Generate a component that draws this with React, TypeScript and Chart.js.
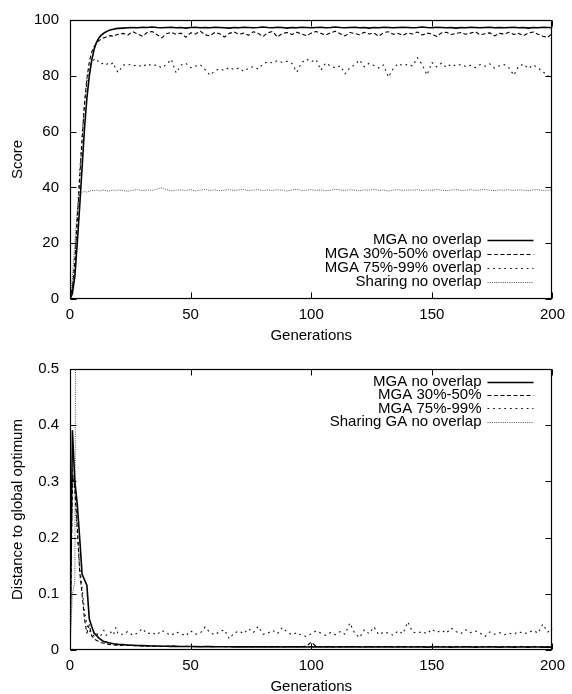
import React, { useEffect, useRef } from 'react';
import { Chart, registerables } from 'chart.js';

Chart.register(...registerables);

// ---------- data ----------
const generations = [
  0, 1, 2, 3, 4, 5, 6, 7, 8, 9, 10, 11, 12, 13, 14, 15, 16, 17, 18, 19, 20,
  22, 24, 26, 28, 30, 32, 34, 36, 38, 40,
  42, 44, 46, 48, 50, 52, 54, 56, 58, 60,
  62, 64, 66, 68, 70, 72, 74, 76, 78, 80,
  82, 84, 86, 88, 90, 92, 94, 96, 98, 100,
  102, 104, 106, 108, 110, 112, 114, 116, 118, 120,
  122, 124, 126, 128, 130, 132, 134, 136, 138, 140,
  142, 144, 146, 148, 150, 152, 154, 156, 158, 160,
  162, 164, 166, 168, 170, 172, 174, 176, 178, 180,
  182, 184, 186, 188, 190, 192, 194, 196, 198, 200,
];

const generationTicks = [0, 50, 100, 150, 200];
const scoreTicks = [0, 20, 40, 60, 80, 100];
const distanceTicks = [0, 0.1, 0.2, 0.3, 0.4, 0.5];

const topLabels = ['MGA no overlap', 'MGA 30%-50% overlap', 'MGA 75%-99% overlap', 'Sharing no overlap'];
const bottomLabels = ['MGA no overlap', 'MGA 30%-50%', 'MGA 75%-99%', 'Sharing GA no overlap'];

const scoreMgaNoOverlap = [
  0, 2, 8, 20, 33, 47, 61, 72, 80, 85.5, 89.5, 92, 93.6, 94.6, 95.3, 95.8, 96.2, 96.5, 96.7, 96.9, 97.0,
  97.1, 97.2, 97.3, 97.2, 97.4, 97.3, 97.5, 97.3, 97.2, 97.3,
  97.4, 97.2, 97.3, 97.1, 97.3, 97.4, 97.2, 97.3, 97.2, 97.4,
  97.3, 97.2, 97.1, 97.3, 97.2, 97.4, 97.3, 97.2, 97.3, 97.5,
  97.3, 97.2, 97.4, 97.3, 97.1, 97.3, 97.2, 97.4, 97.3, 97.2,
  97.3, 97.4, 97.2, 97.3, 97.5, 97.3, 97.2, 97.3, 97.4, 97.2,
  97.3, 97.1, 97.3, 97.2, 97.4, 97.3, 97.2, 97.3, 97.4, 97.3,
  97.2, 97.3, 97.5, 97.3, 97.2, 97.4, 97.3, 97.2, 97.3, 97.1,
  97.3, 97.2, 97.4, 97.3, 97.2, 97.3, 97.4, 97.2, 97.3, 97.2,
  97.3, 97.4, 97.2, 97.3, 97.1, 97.3, 97.2, 97.4, 97.3, 97.2,
];

const scoreMga30to50 = [
  0, 4, 13, 28, 43, 57, 70, 79, 85, 88.5, 90.5, 91.8, 92.6, 93.2, 93.6, 93.9, 94.2, 94.4, 94.1, 94.6, 94.9,
  95.2, 94.6, 95.8, 95.0, 94.2, 95.5, 95.9, 94.8, 93.6, 95.1,
  95.6, 94.9, 95.3, 93.8, 95.4, 95.0, 96.0, 94.7, 94.3, 95.5,
  95.1, 93.9, 95.2, 95.7, 94.9, 95.3, 94.5, 95.8, 95.2, 94.1,
  95.4, 95.9, 93.9, 95.2, 95.5, 94.8, 95.6, 95.0, 94.4, 95.3,
  95.9, 95.2, 94.6, 95.4, 96.0, 95.1, 94.3, 95.5, 95.2, 94.7,
  95.6, 95.0, 95.3, 94.2, 95.5, 95.8, 94.9, 95.2, 94.5, 95.4,
  95.0, 95.7, 94.6, 95.3, 95.0, 94.1, 95.4, 95.6, 94.8, 95.2,
  95.5, 94.9, 95.3, 95.8, 94.7, 95.1, 95.4, 94.3, 95.2, 95.0,
  95.6, 94.8, 95.2, 94.4, 95.3, 95.7, 94.9, 94.2, 93.8, 95.3,
];

const scoreMga75to99 = [
  0, 4, 14, 29, 45, 58, 70, 78, 83, 85.2, 85.8, 86.1, 84.6, 84.3, 84.5, 84.0, 84.6, 84.2, 84.7, 82.3, 81.2,
  83.8, 84.2, 83.5, 84.0, 83.2, 84.3, 83.6, 83.9, 82.8, 84.1,
  85.9, 81.0, 83.8, 84.5, 82.9, 83.4, 84.0, 82.2, 80.2, 81.8,
  82.5, 81.9, 83.0, 82.2, 82.8, 81.6, 82.7, 83.3, 82.4, 84.2,
  85.0, 84.6, 85.5, 84.8, 85.2, 84.4, 81.3, 84.7, 86.0, 85.0,
  85.8, 82.0, 84.6, 83.5, 82.8, 83.6, 80.7, 82.9, 84.0, 85.7,
  83.2, 84.5, 83.7, 82.8, 83.9, 79.5, 82.6, 84.4, 83.6, 84.1,
  83.5, 86.5, 84.0, 80.3, 84.8, 83.2, 84.6, 83.0, 84.2, 83.5,
  84.1, 83.3, 83.8, 82.9, 84.0, 83.4, 84.3, 82.7, 83.6, 84.0,
  82.8, 80.2, 83.5, 84.2, 82.6, 83.9, 82.8, 81.5, 80.0, 79.3,
];

const scoreSharing = [
  0, 8, 20, 32, 37.5, 38.3, 38.5, 38.3, 38.6, 38.9, 38.8, 39.0, 38.7, 38.9, 39.1, 38.8, 38.6, 38.9, 39.0, 38.8, 39.1,
  38.9, 38.6, 39.0, 39.2, 38.8, 39.1, 38.9, 39.4, 39.8, 39.2,
  38.8, 39.0, 39.1, 38.9, 39.2, 38.7, 39.0, 39.3, 38.9, 39.1,
  38.8, 39.0, 39.2, 38.9, 39.1, 39.3, 38.8, 39.0, 39.2, 38.9,
  39.1, 38.9, 39.2, 39.0, 38.7, 39.1, 39.3, 38.9, 39.0, 39.2,
  38.9, 39.1, 38.8, 39.0, 39.3, 39.1, 38.9, 39.2, 39.0, 38.8,
  39.1, 39.0, 39.3, 38.9, 39.1, 38.7, 39.0, 39.2, 38.9, 39.1,
  39.0, 39.2, 38.8, 39.1, 38.9, 39.3, 39.0, 38.8, 39.1, 39.2,
  38.9, 39.0, 39.2, 38.9, 39.1, 39.3, 39.0, 38.8, 39.1, 39.0,
  39.2, 38.9, 39.1, 39.0, 38.8, 39.1, 39.2, 38.9, 39.0, 39.1,
];

const distMgaNoOverlap = [
  0, 0.39, 0.30, 0.26, 0.20, 0.135, 0.125, 0.115, 0.055, 0.042, 0.03, 0.026, 0.021, 0.018, 0.015, 0.014, 0.013, 0.012, 0.011, 0.0105, 0.010,
  0.0095, 0.009, 0.0085, 0.008, 0.0078, 0.0075, 0.0072, 0.007, 0.0068, 0.0066,
  0.0065, 0.0064, 0.0063, 0.0061, 0.0062, 0.006, 0.0059, 0.0061, 0.006, 0.0058,
  0.0058, 0.0057, 0.0059, 0.0056, 0.0058, 0.0055, 0.0057, 0.0056, 0.0058, 0.0055,
  0.0056, 0.0055, 0.0057, 0.0054, 0.0056, 0.0055, 0.0057, 0.0055, 0.0054, 0.0056,
  0.0055, 0.0054, 0.0056, 0.0055, 0.0053, 0.0055, 0.0054, 0.0056, 0.0055, 0.0053,
  0.0054, 0.0055, 0.0053, 0.0055, 0.0054, 0.0056, 0.0054, 0.0053, 0.0055, 0.0054,
  0.0053, 0.0055, 0.0054, 0.0052, 0.0054, 0.0055, 0.0053, 0.0054, 0.0052, 0.0054,
  0.0053, 0.0055, 0.0054, 0.0052, 0.0054, 0.0053, 0.0055, 0.0053, 0.0052, 0.0054,
  0.0053, 0.0052, 0.0054, 0.0053, 0.0051, 0.0053, 0.0054, 0.0052, 0.0053, 0.0052,
];

const distMga30to50 = [
  0, 0.31, 0.29, 0.22, 0.14, 0.10, 0.055, 0.03, 0.045, 0.025, 0.02, 0.017, 0.015, 0.013, 0.012, 0.011, 0.010, 0.0095, 0.009, 0.0085, 0.008,
  0.0085, 0.008, 0.0078, 0.0074, 0.007, 0.0068, 0.0072, 0.0066, 0.0064, 0.0068,
  0.0075, 0.0065, 0.0061, 0.0064, 0.0063, 0.0062, 0.006, 0.0063, 0.0061, 0.0059,
  0.0062, 0.006, 0.0058, 0.0061, 0.0059, 0.0063, 0.0058, 0.006, 0.0062, 0.0058,
  0.0059, 0.0061, 0.0058, 0.006, 0.0057, 0.0062, 0.0059, 0.006, 0.0068, 0.014,
  0.0065, 0.0058, 0.006, 0.0057, 0.0059, 0.0061, 0.0058, 0.006, 0.0062, 0.0058,
  0.0057, 0.0059, 0.0061, 0.0058, 0.006, 0.0057, 0.0059, 0.0062, 0.0058, 0.006,
  0.0059, 0.0057, 0.0061, 0.0058, 0.006, 0.0062, 0.0058, 0.0057, 0.0059, 0.0061,
  0.0058, 0.006, 0.0057, 0.0059, 0.0061, 0.0058, 0.006, 0.0057, 0.0059, 0.0058,
  0.006, 0.0057, 0.0059, 0.0061, 0.0058, 0.006, 0.0057, 0.0059, 0.0058, 0.006,
];

const distMga75to99 = [
  0, 0.32, 0.28, 0.21, 0.15, 0.11, 0.07, 0.045, 0.035, 0.028, 0.025, 0.03, 0.024, 0.027, 0.035, 0.026, 0.029, 0.032, 0.027, 0.04, 0.028,
  0.028, 0.033, 0.026, 0.03, 0.038, 0.029, 0.031, 0.027, 0.035, 0.03,
  0.026, 0.032, 0.029, 0.025, 0.034, 0.028, 0.03, 0.041, 0.031, 0.027,
  0.033, 0.036, 0.02, 0.03, 0.034, 0.029, 0.038, 0.031, 0.042, 0.028,
  0.03, 0.035, 0.029, 0.04, 0.032, 0.027, 0.031, 0.026, 0.024, 0.029,
  0.034, 0.03, 0.026, 0.031, 0.027, 0.033, 0.028, 0.048, 0.03, 0.022,
  0.036, 0.029, 0.041, 0.027, 0.032, 0.03, 0.026, 0.034, 0.029, 0.05,
  0.032, 0.03, 0.033, 0.029, 0.037, 0.031, 0.035, 0.03, 0.039, 0.033,
  0.029, 0.036, 0.031, 0.034, 0.03, 0.024, 0.032, 0.028, 0.031, 0.027,
  0.03, 0.028, 0.033, 0.029, 0.031, 0.035, 0.03, 0.046, 0.032, 0.038,
];

// Sharing GA distance leaves the plotted range after generation 2
const distSharing = [
  0, 0.1, 0.12, 1.5, 1.5, 1.5, 1.5, 1.5, 1.5, 1.5, 1.5, 1.5, 1.5, 1.5, 1.5, 1.5, 1.5, 1.5, 1.5, 1.5, 1.5,
  1.5, 1.5, 1.5, 1.5, 1.5, 1.5, 1.5, 1.5, 1.5, 1.5,
  1.5, 1.5, 1.5, 1.5, 1.5, 1.5, 1.5, 1.5, 1.5, 1.5,
  1.5, 1.5, 1.5, 1.5, 1.5, 1.5, 1.5, 1.5, 1.5, 1.5,
  1.5, 1.5, 1.5, 1.5, 1.5, 1.5, 1.5, 1.5, 1.5, 1.5,
  1.5, 1.5, 1.5, 1.5, 1.5, 1.5, 1.5, 1.5, 1.5, 1.5,
  1.5, 1.5, 1.5, 1.5, 1.5, 1.5, 1.5, 1.5, 1.5, 1.5,
  1.5, 1.5, 1.5, 1.5, 1.5, 1.5, 1.5, 1.5, 1.5, 1.5,
  1.5, 1.5, 1.5, 1.5, 1.5, 1.5, 1.5, 1.5, 1.5, 1.5,
  1.5, 1.5, 1.5, 1.5, 1.5, 1.5, 1.5, 1.5, 1.5, 1.5,
];

// ---------- styling ----------
const FONT_FAMILY = '"Liberation Sans", Arial, Helvetica, sans-serif';
const FONT_SIZE = 15;
const W = 572;
const H = 347;

const seriesStyles = [
  { borderColor: '#000', borderWidth: 1.6, borderDash: [] as number[] },
  { borderColor: '#000', borderWidth: 1.1, borderDash: [4, 2.5] },
  { borderColor: '#111', borderWidth: 1.1, borderDash: [1.8, 3.8] },
  { borderColor: '#555', borderWidth: 1, borderDash: [1, 1.2] },
];

const toPoints = (values: number[]) => generations.map((g, i) => ({ x: g, y: values[i] }));

const framePlugin = {
  id: 'gnuFrame',
  afterDraw(chart: any, _args: any, opts: any) {
    const { ctx, chartArea, scales } = chart;
    const { left, right, top, bottom } = chartArea;
    const L = Math.round(left) + 0.5;
    const R = Math.round(right) - 0.5;
    const T = Math.round(top) + 0.5;
    const B = Math.round(bottom) - 0.5;
    ctx.save();
    ctx.setLineDash([]);
    ctx.strokeStyle = '#000';
    ctx.lineWidth = 1;
    const tl = 6;
    ctx.beginPath();
    scales.x.ticks.forEach((t: any) => {
      const px = Math.round(scales.x.getPixelForValue(t.value)) + 0.5;
      ctx.moveTo(px, B);
      ctx.lineTo(px, B - tl);
      ctx.moveTo(px, T);
      ctx.lineTo(px, T + tl);
    });
    scales.y.ticks.forEach((t: any) => {
      const py = Math.round(scales.y.getPixelForValue(t.value)) + 0.5;
      ctx.moveTo(L, py);
      ctx.lineTo(L + tl, py);
      ctx.moveTo(R, py);
      ctx.lineTo(R - tl, py);
    });
    ctx.stroke();
    ctx.lineWidth = 1.2;
    ctx.strokeRect(L, T, R - L, B - T);

    // gnuplot-style key
    ctx.font = `${FONT_SIZE}px ${FONT_FAMILY}`;
    ctx.textAlign = 'right';
    ctx.textBaseline = 'middle';
    ctx.fillStyle = '#000';
    chart.data.datasets.forEach((ds: any, i: number) => {
      const y = opts.anchor === 'bottom' ? bottom - opts.offset + i * opts.step : top + opts.offset + i * opts.step;
      ctx.fillText(ds.label, right - 71, y);
      const ly = Math.round(y) + 0.5;
      ctx.strokeStyle = ds.borderColor;
      ctx.lineWidth = ds.borderWidth;
      ctx.setLineDash(ds.borderDash || []);
      ctx.beginPath();
      ctx.moveTo(right - 65, ly);
      ctx.lineTo(right - 19, ly);
      ctx.stroke();
    });
    ctx.restore();
  },
};

function makeConfig(opts: {
  labels: string[];
  series: number[][];
  yMin: number;
  yMax: number;
  yTicks: number[];
  yTitle: string;
  padTop: number;
  xAxisHeight: number;
  xTitlePadBottom: number;
  legend: { anchor: string; offset: number; step: number };
}) {
  const font = { family: FONT_FAMILY, size: FONT_SIZE };
  return {
    type: 'line' as const,
    data: {
      datasets: opts.series.map((vals, i) => ({
        label: opts.labels[i],
        data: toPoints(vals),
        ...seriesStyles[i],
        fill: false,
        pointRadius: 0,
        tension: 0,
        borderCapStyle: 'butt',
        borderJoinStyle: 'round',
      })),
    },
    options: {
      animation: false,
      responsive: false,
      maintainAspectRatio: false,
      layout: { padding: { left: 0, right: 14, top: opts.padTop, bottom: 0 } },
      plugins: {
        legend: { display: false },
        tooltip: { enabled: false },
        gnuFrame: opts.legend,
      },
      scales: {
        x: {
          type: 'linear',
          min: 0,
          max: 200,
          afterBuildTicks: (s: any) => {
            s.ticks = generationTicks.map((v) => ({ value: v }));
          },
          afterFit: (s: any) => {
            s.height = opts.xAxisHeight;
          },
          ticks: {
            font,
            color: '#000',
            padding: 7,
            maxRotation: 0,
            autoSkip: false,
            callback: (v: any) => String(v),
          },
          grid: { display: false, drawTicks: false },
          border: { display: false },
          title: {
            display: true,
            text: 'Generations',
            font,
            color: '#000',
            padding: { top: 0, bottom: opts.xTitlePadBottom },
          },
        },
        y: {
          type: 'linear',
          min: opts.yMin,
          max: opts.yMax,
          afterBuildTicks: (s: any) => {
            s.ticks = opts.yTicks.map((v) => ({ value: v }));
          },
          afterFit: (s: any) => {
            s.width = 70;
          },
          ticks: {
            font,
            color: '#000',
            padding: 11,
            autoSkip: false,
            callback: (v: any) => String(v),
          },
          grid: { display: false, drawTicks: false },
          border: { display: false },
          title: {
            display: true,
            text: opts.yTitle,
            font,
            color: '#000',
            padding: { top: 8.5, bottom: 0 },
          },
        },
      },
    },
    plugins: [framePlugin],
  };
}

function ChartCanvas({ config }: { config: any }) {
  const ref = useRef<HTMLCanvasElement | null>(null);
  useEffect(() => {
    if (!ref.current) return;
    const chart = new Chart(ref.current, config);
    return () => chart.destroy();
  }, [config]);
  return <canvas ref={ref} width={W} height={H} style={{ display: 'block', width: W, height: H }} />;
}

const topConfig = makeConfig({
  labels: topLabels,
  series: [scoreMgaNoOverlap, scoreMga30to50, scoreMga75to99, scoreSharing],
  yMin: 0,
  yMax: 100,
  yTicks: scoreTicks,
  yTitle: 'Score',
  padTop: 17,
  xAxisHeight: 48,
  xTitlePadBottom: 2,
  legend: { anchor: 'bottom', offset: 59, step: 14 },
});

const bottomConfig = makeConfig({
  labels: bottomLabels,
  series: [distMgaNoOverlap, distMga30to50, distMga75to99, distSharing],
  yMin: 0,
  yMax: 0.5,
  yTicks: distanceTicks,
  yTitle: 'Distance to global optimum',
  padTop: 22,
  xAxisHeight: 44,
  xTitlePadBottom: -2,
  legend: { anchor: 'top', offset: 12.7, step: 13.35 },
});

export default function App() {
  return (
    <div style={{ position: 'absolute', left: 0, top: 0, width: W, height: H * 2, background: '#fff' }}>
      <ChartCanvas config={topConfig} />
      <ChartCanvas config={bottomConfig} />
    </div>
  );
}
